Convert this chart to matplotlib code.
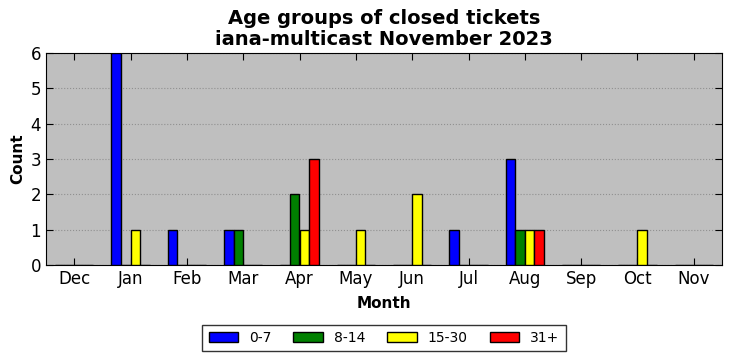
import matplotlib
matplotlib.use("Agg")
import matplotlib.pyplot as plt
import numpy as np

months = ["Dec", "Jan", "Feb", "Mar", "Apr", "May", "Jun", "Jul", "Aug", "Sep", "Oct", "Nov"]
series_names = ["0-7", "8-14", "15-30", "31+"]
v_0_7 = [0, 6, 1, 1, 0, 0, 0, 1, 3, 0, 0, 0]
v_8_14 = [0, 0, 0, 1, 2, 0, 0, 0, 1, 0, 0, 0]
v_15_30 = [0, 1, 0, 0, 1, 1, 2, 0, 1, 0, 1, 0]
v_31 = [0, 0, 0, 0, 3, 0, 0, 0, 1, 0, 0, 0]
colors = ["#0000ff", "#008000", "#ffff00", "#ff0000"]

fig = plt.figure(figsize=(7.32, 3.61), dpi=100)
ax = fig.add_axes([46/732, 1-265/361, 676/732, 212/361])
ax.set_facecolor("#bfbfbf")
x = np.arange(len(months))
w = 0.17
for i, (vals, name, c) in enumerate(zip([v_0_7, v_8_14, v_15_30, v_31], series_names, colors)):
    ax.bar(x + (i - 2) * w, vals, width=w, align="edge", color=c, edgecolor="black",
           linewidth=1, label=name, zorder=3)
ax.set_xlim(-0.5, 11.5)
ax.set_ylim(0, 6)
ax.set_xticks(x)
ax.set_xticklabels(months, fontsize=12)
ax.set_yticks(range(7))
ax.tick_params(axis="y", labelsize=12)
ax.tick_params(direction="in", top=True, right=True, length=5)
ax.yaxis.grid(True, linestyle=":", color="#909090", linewidth=0.8, zorder=0)
ax.set_axisbelow(True)
ax.set_xlabel("Month", fontsize=11, fontweight="bold", labelpad=6)
ax.set_ylabel("Count", fontsize=11, fontweight="bold")
ax.set_title("Age groups of closed tickets\niana-multicast November 2023", fontsize=14,
             fontweight="bold", linespacing=1.1)
leg = ax.legend(loc="upper center", bbox_to_anchor=(0.5, -0.25), ncol=4, frameon=True,
                fancybox=False, edgecolor="black", fontsize=10, handlelength=2.1,
                handleheight=0.7, columnspacing=1.6, borderpad=0.45)
leg.get_frame().set_linewidth(1)
fig.savefig("out.png", dpi=100)
